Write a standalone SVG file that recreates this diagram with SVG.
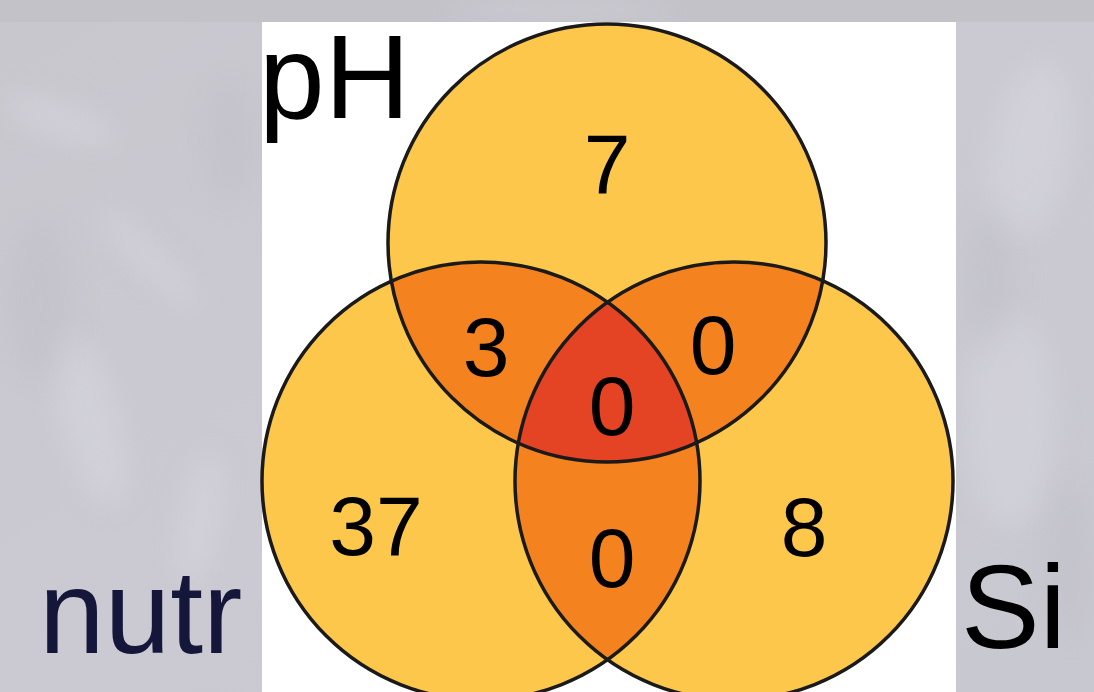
<svg xmlns="http://www.w3.org/2000/svg" width="1094" height="692" viewBox="0 0 1094 692">
  <defs>
    <linearGradient id="bgGrad" x1="0" y1="0" x2="1" y2="1">
      <stop offset="0" stop-color="#c8c7ce"/>
      <stop offset="0.5" stop-color="#cbcad2"/>
      <stop offset="1" stop-color="#c8c8d0"/>
    </linearGradient>
    <filter id="soft" x="-50%" y="-50%" width="200%" height="200%">
      <feGaussianBlur stdDeviation="14"/>
    </filter>
    <clipPath id="clipPH"><circle cx="607" cy="243" r="219"/></clipPath>
    <clipPath id="clipNutr"><circle cx="481" cy="481" r="219"/></clipPath>
    <clipPath id="clipSi"><circle cx="734" cy="481" r="219"/></clipPath>
    <style>
      .set { fill: #fcc74b; }
      .pair { fill: #f4821f; }
      .triple { fill: #e44424; }
      .outline { fill: none; stroke: #1b1a1a; stroke-width: 3.5; }
      .count { font-family: "Liberation Sans", Arial, sans-serif; font-size: 84px; fill: #000; text-anchor: middle; }
      .setname { font-family: "Liberation Sans", Arial, sans-serif; font-size: 118px; }
    </style>
  </defs>

  <!-- textured photo backdrop -->
  <g id="backdrop">
    <rect x="0" y="0" width="1094" height="692" fill="url(#bgGrad)"/>
    <rect x="0" y="0" width="1094" height="22" fill="#c3c2c9"/>
    <g filter="url(#soft)" fill="#dcdce4" opacity="0.4">
      <ellipse cx="60" cy="120" rx="60" ry="18" transform="rotate(20 60 120)"/>
      <ellipse cx="150" cy="260" rx="70" ry="14" transform="rotate(45 150 260)"/>
      <ellipse cx="90" cy="420" rx="30" ry="90" transform="rotate(-15 90 420)"/>
      <ellipse cx="200" cy="520" rx="20" ry="70" transform="rotate(10 200 520)"/>
      <ellipse cx="1030" cy="150" rx="40" ry="90" transform="rotate(10 1030 150)"/>
      <ellipse cx="1010" cy="420" rx="45" ry="110"/>
      <ellipse cx="560" cy="10" rx="120" ry="10"/>
    </g>
    <g filter="url(#soft)" fill="#bbbac3" opacity="0.35">
      <ellipse cx="40" cy="300" rx="30" ry="80"/>
      <ellipse cx="230" cy="140" rx="25" ry="60"/>
      <ellipse cx="990" cy="280" rx="25" ry="70"/>
      <ellipse cx="1070" cy="560" rx="20" ry="80"/>
    </g>
    <rect x="262" y="22" width="694" height="670" fill="#ffffff"/>
  </g>

  <!-- set circles -->
  <g id="set-pH"><circle class="set" cx="607" cy="243" r="219"/></g>
  <g id="set-nutr"><circle class="set" cx="481" cy="481" r="219"/></g>
  <g id="set-Si"><circle class="set" cx="734" cy="481" r="219"/></g>

  <!-- overlaps -->
  <g id="overlap-pH-nutr" clip-path="url(#clipPH)"><circle class="pair" cx="481" cy="481" r="219"/></g>
  <g id="overlap-pH-Si" clip-path="url(#clipPH)"><circle class="pair" cx="734" cy="481" r="219"/></g>
  <g id="overlap-nutr-Si" clip-path="url(#clipNutr)"><circle class="pair" cx="734" cy="481" r="219"/></g>
  <g id="overlap-all" clip-path="url(#clipPH)"><g clip-path="url(#clipNutr)"><circle class="triple" cx="734" cy="481" r="219"/></g></g>

  <!-- outlines -->
  <g id="outlines">
    <circle class="outline" cx="607" cy="243" r="219"/>
    <circle class="outline" cx="481" cy="481" r="219"/>
    <circle class="outline" cx="734" cy="481" r="219"/>
  </g>

  <!-- region counts -->
  <g id="counts">
    <text class="count" x="607" y="193">7</text>
    <text class="count" x="486" y="376">3</text>
    <text class="count" x="713" y="374">0</text>
    <text class="count" x="612" y="435">0</text>
    <text class="count" x="376" y="555">37</text>
    <text class="count" x="612" y="587">0</text>
    <text class="count" x="804" y="556">8</text>
  </g>

  <!-- set labels -->
  <g id="labels">
    <text class="setname" x="259" y="118" fill="#000">pH</text>
    <text class="setname" x="39" y="653" fill="#15173a">nutr</text>
    <text class="setname" x="961" y="648" fill="#000">Si</text>
  </g>
</svg>
